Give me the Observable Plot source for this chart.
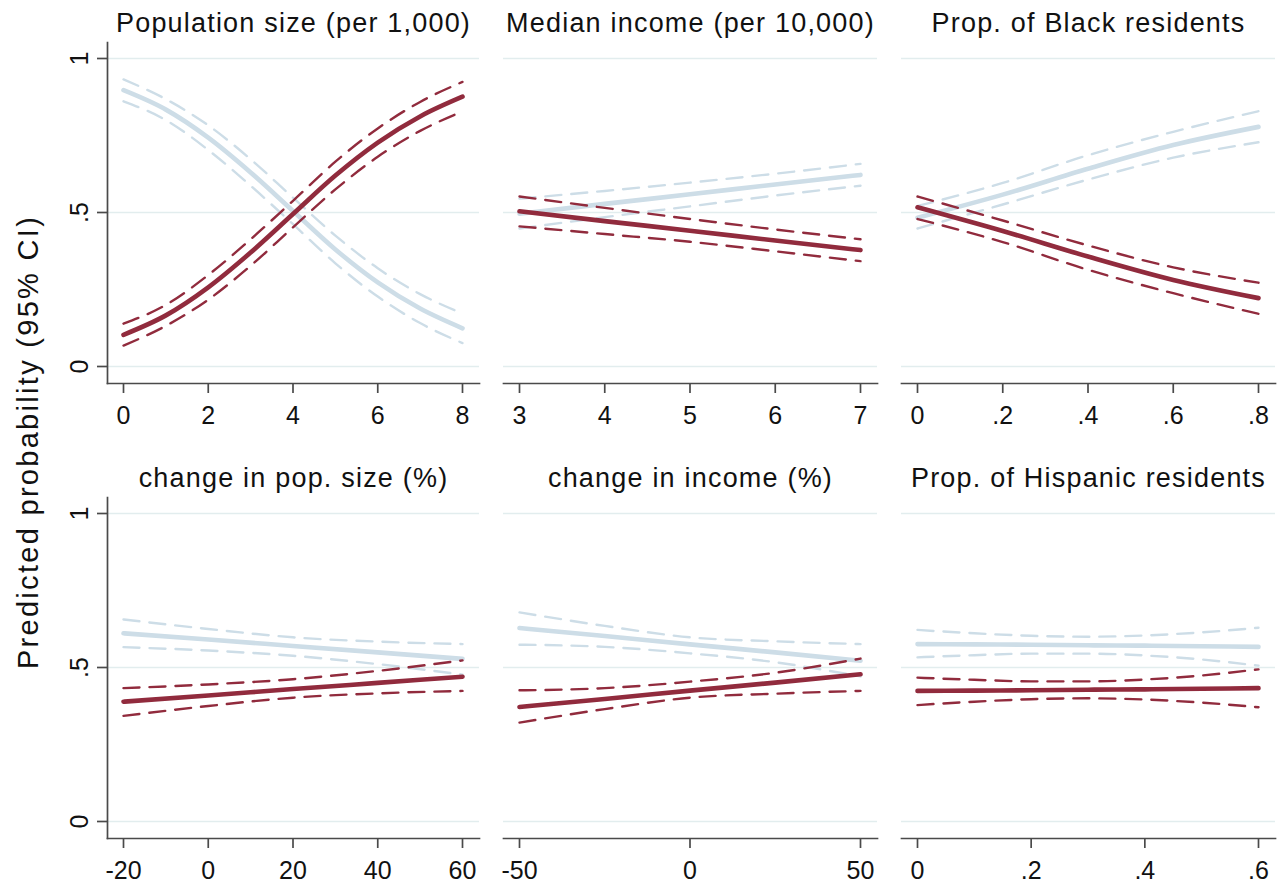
<!DOCTYPE html>
<html>
<head>
<meta charset="utf-8">
<script src="https://cdn.jsdelivr.net/npm/d3@7"></script>
<script src="https://cdn.jsdelivr.net/npm/@observablehq/plot@0.6"></script>
<style>
  html, body { margin: 0; padding: 0; background: #ffffff; }
  #wrap { position: relative; width: 1287px; height: 888px; overflow: hidden; background: #fff;
          font-family: "Liberation Sans", Arial, sans-serif; }
  .panel { position: absolute; }
  .panel svg { overflow: visible; }
  .panel g[aria-label="text"] text { letter-spacing: 1.2px; }
  #ylab { position: absolute; left: 28px; top: 442px; transform: translate(-50%, -50%) rotate(-90deg);
          white-space: nowrap; font-size: 29px; letter-spacing: 2.3px; color: #111; line-height: 1; }
</style>
</head>
<body>
<div id="wrap"><div id="ylab">Predicted probability (95% CI)</div></div>
<script>
// ---------------- data ----------------
const panelTitles = [
  "Population size (per 1,000)",
  "Median income (per 10,000)",
  "Prop. of Black residents",
  "change in pop. size (%)",
  "change in income (%)",
  "Prop. of Hispanic residents"
];

// x tick values and labels per panel
const xTicks1 = [0, 2, 4, 6, 8];            const xLabels1 = ["0", "2", "4", "6", "8"];
const xTicks2 = [3, 4, 5, 6, 7];            const xLabels2 = ["3", "4", "5", "6", "7"];
const xTicks3 = [0, 0.2, 0.4, 0.6, 0.8];    const xLabels3 = ["0", ".2", ".4", ".6", ".8"];
const xTicks4 = [-20, 0, 20, 40, 60];       const xLabels4 = ["-20", "0", "20", "40", "60"];
const xTicks5 = [-50, 0, 50];               const xLabels5 = ["-50", "0", "50"];
const xTicks6 = [0, 0.2, 0.4, 0.6];         const xLabels6 = ["0", ".2", ".4", ".6"];

const yTicks = [0, 0.5, 1];
const yLabels = ["0", ".5", "1"];

// Panel 1: Population size (per 1,000)
const x1 = [0, 1, 2, 3, 4, 5, 6, 7, 8];
const red1    = [0.103, 0.166, 0.257, 0.370, 0.495, 0.620, 0.727, 0.812, 0.876];
const red1Lo  = [0.068, 0.132, 0.217, 0.327, 0.452, 0.575, 0.681, 0.765, 0.828];
const red1Hi  = [0.139, 0.200, 0.297, 0.413, 0.538, 0.665, 0.773, 0.859, 0.924];
const blue1   = [0.897, 0.834, 0.743, 0.630, 0.505, 0.380, 0.273, 0.188, 0.124];
const blue1Lo = [0.861, 0.800, 0.703, 0.587, 0.462, 0.335, 0.227, 0.141, 0.076];
const blue1Hi = [0.932, 0.868, 0.783, 0.673, 0.548, 0.425, 0.319, 0.235, 0.172];

// Panel 2: Median income (per 10,000)
const x2 = [3, 4, 5, 6, 7];
const red2    = [0.504, 0.472, 0.441, 0.409, 0.378];
const red2Lo  = [0.455, 0.430, 0.405, 0.374, 0.342];
const red2Hi  = [0.552, 0.515, 0.479, 0.445, 0.413];
const blue2   = [0.496, 0.528, 0.559, 0.591, 0.622];
const blue2Lo = [0.448, 0.485, 0.520, 0.555, 0.587];
const blue2Hi = [0.545, 0.570, 0.597, 0.626, 0.658];

// Panel 3: Prop. of Black residents
const x3 = [0, 0.2, 0.4, 0.6, 0.8];
const red3    = [0.517, 0.440, 0.357, 0.281, 0.222];
const red3Lo  = [0.479, 0.404, 0.314, 0.238, 0.171];
const red3Hi  = [0.552, 0.474, 0.393, 0.322, 0.272];
const blue3   = [0.483, 0.558, 0.642, 0.719, 0.778];
const blue3Lo = [0.448, 0.526, 0.607, 0.678, 0.728];
const blue3Hi = [0.521, 0.596, 0.686, 0.762, 0.829];

// Panel 4: change in pop. size (%)
const x4 = [-20, 0, 20, 40, 60];
const red4    = [0.389, 0.409, 0.430, 0.450, 0.470];
const red4Lo  = [0.343, 0.375, 0.402, 0.416, 0.424];
const red4Hi  = [0.433, 0.445, 0.462, 0.489, 0.523];
const blue4   = [0.611, 0.591, 0.570, 0.549, 0.528];
const blue4Lo = [0.566, 0.555, 0.538, 0.511, 0.477];
const blue4Hi = [0.656, 0.625, 0.598, 0.584, 0.576];

// Panel 5: change in income (%)
const x5 = [-50, -25, 0, 25, 50];
const red5    = [0.372, 0.398, 0.425, 0.451, 0.478];
const red5Lo  = [0.321, 0.365, 0.402, 0.415, 0.424];
const red5Hi  = [0.426, 0.433, 0.454, 0.483, 0.529];
const blue5   = [0.628, 0.602, 0.575, 0.549, 0.522];
const blue5Lo = [0.574, 0.567, 0.546, 0.517, 0.471];
const blue5Hi = [0.679, 0.635, 0.598, 0.585, 0.576];

// Panel 6: Prop. of Hispanic residents
const x6 = [0, 0.1, 0.2, 0.3, 0.4, 0.5, 0.6];
const red6    = [0.424, 0.425, 0.426, 0.428, 0.429, 0.431, 0.433];
const red6Lo  = [0.378, 0.389, 0.397, 0.400, 0.396, 0.386, 0.371];
const red6Hi  = [0.467, 0.460, 0.455, 0.455, 0.461, 0.474, 0.494];
const blue6   = [0.576, 0.575, 0.574, 0.572, 0.571, 0.569, 0.567];
const blue6Lo = [0.533, 0.540, 0.545, 0.545, 0.539, 0.526, 0.506];
const blue6Hi = [0.622, 0.611, 0.603, 0.600, 0.604, 0.614, 0.629];

// ---------------- styling / layout ----------------
const RED = "#912b3d";
const BLUE = "#cddde7";
const GRID = "#e2edee";
const AXIS = "#4a4a4a";
const FONT = "Liberation Sans, Arial, sans-serif";

const rows = [
  {top: 0,   height: 440, marginTop: 42, marginBottom: 57},
  {top: 450, height: 438, marginTop: 47, marginBottom: 50}
];
const cols = [
  {left: 0,   width: 480, marginLeft: 107, marginRight: 1,  yAxis: true},
  {left: 480, width: 400, marginLeft: 23,  marginRight: 3,  yAxis: false},
  {left: 880, width: 407, marginLeft: 21,  marginRight: 12, yAxis: false}
];

const panels = [
  {x: x1, r: red1, rl: red1Lo, rh: red1Hi, b: blue1, bl: blue1Lo, bh: blue1Hi, ticks: xTicks1, labels: xLabels1},
  {x: x2, r: red2, rl: red2Lo, rh: red2Hi, b: blue2, bl: blue2Lo, bh: blue2Hi, ticks: xTicks2, labels: xLabels2},
  {x: x3, r: red3, rl: red3Lo, rh: red3Hi, b: blue3, bl: blue3Lo, bh: blue3Hi, ticks: xTicks3, labels: xLabels3},
  {x: x4, r: red4, rl: red4Lo, rh: red4Hi, b: blue4, bl: blue4Lo, bh: blue4Hi, ticks: xTicks4, labels: xLabels4},
  {x: x5, r: red5, rl: red5Lo, rh: red5Hi, b: blue5, bl: blue5Lo, bh: blue5Hi, ticks: xTicks5, labels: xLabels5},
  {x: x6, r: red6, rl: red6Lo, rh: red6Hi, b: blue6, bl: blue6Lo, bh: blue6Hi, ticks: xTicks6, labels: xLabels6}
];

const wrap = document.getElementById("wrap");

panels.forEach((p, i) => {
  const row = rows[Math.floor(i / 3)];
  const col = cols[i % 3];
  const rowsData = p.x.map((xv, k) => ({
    x: xv, r: p.r[k], rl: p.rl[k], rh: p.rh[k], b: p.b[k], bl: p.bl[k], bh: p.bh[k]
  }));
  const dash = {strokeDasharray: "16,10", strokeWidth: 2.4, curve: "monotone-x"};
  const solid = {strokeWidth: 4.6, curve: "monotone-x"};
  const marks = [
    Plot.gridY(yTicks, {stroke: GRID, strokeOpacity: 1, strokeWidth: 1.3}),
    Plot.frame({anchor: "bottom", stroke: AXIS, strokeWidth: 1.7}),
    Plot.axisX(p.ticks, {
      tickSize: 10, tickPadding: 13, stroke: AXIS, strokeWidth: 1.7, fill: "#111",
      fontSize: 25, label: null,
      tickFormat: d => p.labels[p.ticks.indexOf(d)]
    }),
    // blue series (CI first, then estimate)
    Plot.line(rowsData, {x: "x", y: "bh", stroke: BLUE, ...dash}),
    Plot.line(rowsData, {x: "x", y: "bl", stroke: BLUE, ...dash}),
    Plot.line(rowsData, {x: "x", y: "b", stroke: BLUE, ...solid}),
    // red series
    Plot.line(rowsData, {x: "x", y: "rh", stroke: RED, ...dash}),
    Plot.line(rowsData, {x: "x", y: "rl", stroke: RED, ...dash}),
    Plot.line(rowsData, {x: "x", y: "r", stroke: RED, ...solid}),
    Plot.text([panelTitles[i]], {frameAnchor: "top", dy: -11, lineAnchor: "bottom", fontSize: 27, fill: "#111"})
  ];
  if (col.yAxis) {
    marks.push(Plot.frame({anchor: "left", stroke: AXIS, strokeWidth: 1.7}));
    marks.push(Plot.axisY(yTicks, {
      tickSize: 10, tickPadding: 10, tickRotate: -90, stroke: AXIS, strokeWidth: 1.7, fill: "#111",
      fontSize: 25, label: null,
      tickFormat: d => yLabels[yTicks.indexOf(d)]
    }));
  }
  const chart = Plot.plot({
    width: col.width,
    height: row.height,
    marginLeft: col.marginLeft,
    marginRight: col.marginRight,
    marginTop: row.marginTop,
    marginBottom: row.marginBottom,
    insetLeft: 16, insetRight: 17, insetTop: 16, insetBottom: 17,
    style: {fontFamily: FONT, fontSize: "25px", color: "#111", background: "transparent", overflow: "visible"},
    x: {domain: [p.ticks[0], p.ticks[p.ticks.length - 1]], axis: null},
    y: {domain: [0, 1], axis: null},
    marks
  });
  const holder = document.createElement("div");
  holder.className = "panel";
  holder.style.left = col.left + "px";
  holder.style.top = row.top + "px";
  holder.appendChild(chart);
  wrap.appendChild(holder);
});
</script>
</body>
</html>
